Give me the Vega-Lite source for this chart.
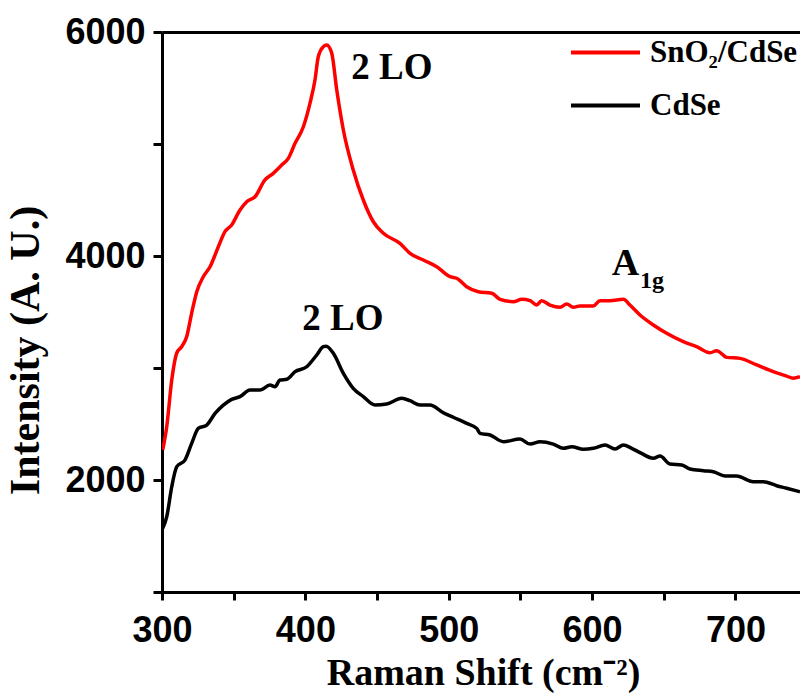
{
  "$schema": "https://vega.github.io/schema/vega-lite/v6.json",
  "width": 638,
  "height": 560,
  "autosize": {"type": "none"},
  "padding": {"left": 162, "top": 32, "right": 0, "bottom": 104},
  "background": "#ffffff",
  "config": {
    "view": {"stroke": null},
    "axis": {"grid": false, "domainColor": "#000000", "tickColor": "#000000", "labelColor": "#000000", "titleColor": "#000000"}
  },
  "datasets": {
    "spectra": [
      {"sample": "SnO₂/CdSe", "shift": 300.5, "intensity": 2268},
      {"sample": "SnO₂/CdSe", "shift": 303.3, "intensity": 2476},
      {"sample": "SnO₂/CdSe", "shift": 306.8, "intensity": 2893},
      {"sample": "SnO₂/CdSe", "shift": 310.3, "intensity": 3134},
      {"sample": "SnO₂/CdSe", "shift": 313.7, "intensity": 3190},
      {"sample": "SnO₂/CdSe", "shift": 317.2, "intensity": 3279},
      {"sample": "SnO₂/CdSe", "shift": 320.7, "intensity": 3491},
      {"sample": "SnO₂/CdSe", "shift": 324.2, "intensity": 3679},
      {"sample": "SnO₂/CdSe", "shift": 328.8, "intensity": 3815},
      {"sample": "SnO₂/CdSe", "shift": 333.5, "intensity": 3904},
      {"sample": "SnO₂/CdSe", "shift": 339.3, "intensity": 4083},
      {"sample": "SnO₂/CdSe", "shift": 343.9, "intensity": 4217},
      {"sample": "SnO₂/CdSe", "shift": 348.6, "intensity": 4277},
      {"sample": "SnO₂/CdSe", "shift": 354.4, "intensity": 4411},
      {"sample": "SnO₂/CdSe", "shift": 359.1, "intensity": 4485},
      {"sample": "SnO₂/CdSe", "shift": 364.9, "intensity": 4529},
      {"sample": "SnO₂/CdSe", "shift": 371.8, "intensity": 4679},
      {"sample": "SnO₂/CdSe", "shift": 377.6, "intensity": 4738},
      {"sample": "SnO₂/CdSe", "shift": 383.5, "intensity": 4812},
      {"sample": "SnO₂/CdSe", "shift": 388.1, "intensity": 4872},
      {"sample": "SnO₂/CdSe", "shift": 392.8, "intensity": 5006},
      {"sample": "SnO₂/CdSe", "shift": 398.6, "intensity": 5154},
      {"sample": "SnO₂/CdSe", "shift": 403.2, "intensity": 5363},
      {"sample": "SnO₂/CdSe", "shift": 406.7, "intensity": 5571},
      {"sample": "SnO₂/CdSe", "shift": 409.0, "intensity": 5779},
      {"sample": "SnO₂/CdSe", "shift": 412.5, "intensity": 5869},
      {"sample": "SnO₂/CdSe", "shift": 414.9, "intensity": 5884},
      {"sample": "SnO₂/CdSe", "shift": 418.4, "intensity": 5810},
      {"sample": "SnO₂/CdSe", "shift": 421.9, "intensity": 5482},
      {"sample": "SnO₂/CdSe", "shift": 426.5, "intensity": 5125},
      {"sample": "SnO₂/CdSe", "shift": 433.4, "intensity": 4768},
      {"sample": "SnO₂/CdSe", "shift": 440.4, "intensity": 4500},
      {"sample": "SnO₂/CdSe", "shift": 447.4, "intensity": 4306},
      {"sample": "SnO₂/CdSe", "shift": 454.4, "intensity": 4203},
      {"sample": "SnO₂/CdSe", "shift": 466.0, "intensity": 4113},
      {"sample": "SnO₂/CdSe", "shift": 473.0, "intensity": 4024},
      {"sample": "SnO₂/CdSe", "shift": 482.3, "intensity": 3964},
      {"sample": "SnO₂/CdSe", "shift": 491.6, "intensity": 3904},
      {"sample": "SnO₂/CdSe", "shift": 500.9, "intensity": 3815},
      {"sample": "SnO₂/CdSe", "shift": 505.6, "intensity": 3801},
      {"sample": "SnO₂/CdSe", "shift": 512.5, "intensity": 3726},
      {"sample": "SnO₂/CdSe", "shift": 520.6, "intensity": 3681},
      {"sample": "SnO₂/CdSe", "shift": 530.0, "intensity": 3667},
      {"sample": "SnO₂/CdSe", "shift": 535.8, "intensity": 3613},
      {"sample": "SnO₂/CdSe", "shift": 545.0, "intensity": 3592},
      {"sample": "SnO₂/CdSe", "shift": 550.9, "intensity": 3613},
      {"sample": "SnO₂/CdSe", "shift": 556.7, "intensity": 3601},
      {"sample": "SnO₂/CdSe", "shift": 561.3, "intensity": 3562},
      {"sample": "SnO₂/CdSe", "shift": 564.8, "intensity": 3601},
      {"sample": "SnO₂/CdSe", "shift": 570.6, "intensity": 3562},
      {"sample": "SnO₂/CdSe", "shift": 577.6, "intensity": 3542},
      {"sample": "SnO₂/CdSe", "shift": 582.3, "intensity": 3571},
      {"sample": "SnO₂/CdSe", "shift": 586.9, "intensity": 3542},
      {"sample": "SnO₂/CdSe", "shift": 591.5, "intensity": 3553},
      {"sample": "SnO₂/CdSe", "shift": 600.8, "intensity": 3553},
      {"sample": "SnO₂/CdSe", "shift": 605.5, "intensity": 3601},
      {"sample": "SnO₂/CdSe", "shift": 612.5, "intensity": 3601},
      {"sample": "SnO₂/CdSe", "shift": 621.8, "intensity": 3613},
      {"sample": "SnO₂/CdSe", "shift": 626.4, "intensity": 3562},
      {"sample": "SnO₂/CdSe", "shift": 633.4, "intensity": 3473},
      {"sample": "SnO₂/CdSe", "shift": 642.7, "intensity": 3384},
      {"sample": "SnO₂/CdSe", "shift": 652.0, "intensity": 3310},
      {"sample": "SnO₂/CdSe", "shift": 663.6, "intensity": 3235},
      {"sample": "SnO₂/CdSe", "shift": 672.9, "intensity": 3190},
      {"sample": "SnO₂/CdSe", "shift": 682.2, "intensity": 3136},
      {"sample": "SnO₂/CdSe", "shift": 686.9, "intensity": 3154},
      {"sample": "SnO₂/CdSe", "shift": 693.9, "intensity": 3095},
      {"sample": "SnO₂/CdSe", "shift": 703.2, "intensity": 3086},
      {"sample": "SnO₂/CdSe", "shift": 714.8, "intensity": 3027},
      {"sample": "SnO₂/CdSe", "shift": 726.4, "intensity": 2967},
      {"sample": "SnO₂/CdSe", "shift": 735.7, "intensity": 2928},
      {"sample": "SnO₂/CdSe", "shift": 740.3, "intensity": 2908},
      {"sample": "SnO₂/CdSe", "shift": 745.0, "intensity": 2922},
      {"sample": "CdSe", "shift": 300.5, "intensity": 1569},
      {"sample": "CdSe", "shift": 303.3, "intensity": 1672},
      {"sample": "CdSe", "shift": 306.8, "intensity": 1940},
      {"sample": "CdSe", "shift": 310.3, "intensity": 2119},
      {"sample": "CdSe", "shift": 316.0, "intensity": 2178},
      {"sample": "CdSe", "shift": 320.7, "intensity": 2327},
      {"sample": "CdSe", "shift": 325.3, "intensity": 2461},
      {"sample": "CdSe", "shift": 331.2, "intensity": 2491},
      {"sample": "CdSe", "shift": 337.0, "intensity": 2595},
      {"sample": "CdSe", "shift": 342.8, "intensity": 2669},
      {"sample": "CdSe", "shift": 348.6, "intensity": 2720},
      {"sample": "CdSe", "shift": 354.4, "intensity": 2744},
      {"sample": "CdSe", "shift": 361.4, "intensity": 2803},
      {"sample": "CdSe", "shift": 368.4, "intensity": 2803},
      {"sample": "CdSe", "shift": 375.3, "intensity": 2848},
      {"sample": "CdSe", "shift": 378.8, "intensity": 2833},
      {"sample": "CdSe", "shift": 382.3, "intensity": 2893},
      {"sample": "CdSe", "shift": 387.0, "intensity": 2899},
      {"sample": "CdSe", "shift": 392.8, "intensity": 2967},
      {"sample": "CdSe", "shift": 400.9, "intensity": 3011},
      {"sample": "CdSe", "shift": 407.9, "intensity": 3116},
      {"sample": "CdSe", "shift": 412.5, "intensity": 3190},
      {"sample": "CdSe", "shift": 414.5, "intensity": 3195},
      {"sample": "CdSe", "shift": 419.5, "intensity": 3131},
      {"sample": "CdSe", "shift": 426.5, "intensity": 2953},
      {"sample": "CdSe", "shift": 433.4, "intensity": 2819},
      {"sample": "CdSe", "shift": 440.4, "intensity": 2744},
      {"sample": "CdSe", "shift": 448.6, "intensity": 2669},
      {"sample": "CdSe", "shift": 456.7, "intensity": 2678},
      {"sample": "CdSe", "shift": 467.2, "intensity": 2729},
      {"sample": "CdSe", "shift": 473.0, "intensity": 2708},
      {"sample": "CdSe", "shift": 480.0, "intensity": 2669},
      {"sample": "CdSe", "shift": 486.9, "intensity": 2669},
      {"sample": "CdSe", "shift": 496.2, "intensity": 2601},
      {"sample": "CdSe", "shift": 503.2, "intensity": 2560},
      {"sample": "CdSe", "shift": 512.5, "intensity": 2506},
      {"sample": "CdSe", "shift": 519.5, "intensity": 2461},
      {"sample": "CdSe", "shift": 521.8, "intensity": 2417},
      {"sample": "CdSe", "shift": 528.8, "intensity": 2402},
      {"sample": "CdSe", "shift": 538.1, "intensity": 2342},
      {"sample": "CdSe", "shift": 549.7, "intensity": 2366},
      {"sample": "CdSe", "shift": 556.7, "intensity": 2321},
      {"sample": "CdSe", "shift": 563.7, "intensity": 2342},
      {"sample": "CdSe", "shift": 572.9, "intensity": 2321},
      {"sample": "CdSe", "shift": 579.9, "intensity": 2283},
      {"sample": "CdSe", "shift": 585.8, "intensity": 2297},
      {"sample": "CdSe", "shift": 593.9, "intensity": 2274},
      {"sample": "CdSe", "shift": 600.8, "intensity": 2283},
      {"sample": "CdSe", "shift": 609.0, "intensity": 2312},
      {"sample": "CdSe", "shift": 616.0, "intensity": 2277},
      {"sample": "CdSe", "shift": 621.8, "intensity": 2312},
      {"sample": "CdSe", "shift": 627.6, "intensity": 2283},
      {"sample": "CdSe", "shift": 633.4, "intensity": 2245},
      {"sample": "CdSe", "shift": 642.7, "intensity": 2194},
      {"sample": "CdSe", "shift": 647.4, "intensity": 2214},
      {"sample": "CdSe", "shift": 654.3, "intensity": 2143},
      {"sample": "CdSe", "shift": 662.5, "intensity": 2134},
      {"sample": "CdSe", "shift": 668.3, "intensity": 2098},
      {"sample": "CdSe", "shift": 677.6, "intensity": 2083},
      {"sample": "CdSe", "shift": 684.5, "intensity": 2074},
      {"sample": "CdSe", "shift": 692.7, "intensity": 2036},
      {"sample": "CdSe", "shift": 700.8, "intensity": 2036},
      {"sample": "CdSe", "shift": 712.4, "intensity": 1985},
      {"sample": "CdSe", "shift": 719.4, "intensity": 1985},
      {"sample": "CdSe", "shift": 728.7, "intensity": 1949},
      {"sample": "CdSe", "shift": 735.7, "intensity": 1926},
      {"sample": "CdSe", "shift": 745.0, "intensity": 1895}
    ],
    "peaks": [
      {"shift": 460.4, "intensity": 5580, "label": "2 LO"},
      {"shift": 426.2, "intensity": 3339, "label": "2 LO"}
    ],
    "a1g": [
      {"shift": 613.7, "intensity": 3830, "label": "A"}
    ],
    "a1gsub": [
      {"shift": 633.4, "intensity": 3714, "label": "1g"}
    ]
  },
  "resolve": {"axis": {"x": "independent", "y": "independent"}},
  "layer": [
    {
      "data": {"name": "spectra"},
      "mark": {"type": "line", "strokeWidth": 3.5, "interpolate": "monotone", "clip": true},
      "encoding": {
        "x": {
          "field": "shift", "type": "quantitative",
          "scale": {"domain": [300, 745], "nice": false, "zero": false},
          "axis": {
            "orient": "bottom",
            "values": [300, 350, 400, 450, 500, 550, 600, 650, 700],
            "format": "d",
            "labelExpr": "datum.value % 100 === 0 ? datum.label : ''",
            "labelFont": "Liberation Sans", "labelFontWeight": "bold", "labelFontSize": 36,
            "labelPadding": 13, "labelFlush": false, "labelOverlap": false,
            "tickSize": 8, "tickWidth": 3, "domainWidth": 3,
            "title": "Raman Shift (cm⁻²)",
            "titleFont": "Liberation Serif", "titleFontWeight": "bold", "titleFontSize": 38,
            "titleBaseline": "alphabetic", "titleY": 92, "titleX": 321
          }
        },
        "y": {
          "field": "intensity", "type": "quantitative",
          "scale": {"domain": [1000, 6000], "nice": false, "zero": false},
          "axis": {
            "orient": "left",
            "values": [1000, 2000, 3000, 4000, 5000, 6000],
            "format": "d",
            "labelExpr": "datum.value % 2000 === 0 ? datum.label : ''",
            "labelFont": "Liberation Sans", "labelFontWeight": "bold", "labelFontSize": 36,
            "labelPadding": 8, "labelOverlap": false, "labelFlush": false,
            "tickSize": 9, "tickWidth": 3, "domainWidth": 3,
            "title": "Intensity (A. U.)",
            "titleFont": "Liberation Serif", "titleFontWeight": "bold", "titleFontSize": 42,
            "titleAngle": 270, "titleAlign": "center", "titleBaseline": "alphabetic",
            "titleX": -124, "titleY": 318
          }
        },
        "color": {
          "field": "sample", "type": "nominal",
          "scale": {"domain": ["SnO₂/CdSe", "CdSe"], "range": ["#ff0000", "#000000"]},
          "legend": {
            "orient": "none", "legendX": 407, "legendY": -16,
            "title": null, "padding": 0,
            "symbolType": "stroke", "symbolSize": 4761, "symbolStrokeWidth": 4,
            "labelFont": "Liberation Serif", "labelFontWeight": "bold", "labelFontSize": 31,
            "labelColor": "#000000", "labelOffset": 8, "rowPadding": 1
          }
        }
      }
    },
    {
      "data": {"name": "peaks"},
      "mark": {"type": "text", "font": "Liberation Serif", "fontWeight": "bold", "fontSize": 37, "align": "center", "baseline": "alphabetic", "color": "#000000"},
      "encoding": {
        "x": {"field": "shift", "type": "quantitative",
          "axis": {"orient": "top", "labels": false, "ticks": false, "domainWidth": 3, "title": null}},
        "y": {"field": "intensity", "type": "quantitative", "axis": null},
        "text": {"field": "label"}
      }
    },
    {
      "data": {"name": "a1g"},
      "mark": {"type": "text", "font": "Liberation Serif", "fontWeight": "bold", "fontSize": 38, "align": "left", "baseline": "alphabetic", "color": "#000000"},
      "encoding": {
        "x": {"field": "shift", "type": "quantitative", "axis": null},
        "y": {"field": "intensity", "type": "quantitative", "axis": null},
        "text": {"field": "label"}
      }
    },
    {
      "data": {"name": "a1gsub"},
      "mark": {"type": "text", "font": "Liberation Serif", "fontWeight": "bold", "fontSize": 24, "align": "left", "baseline": "alphabetic", "color": "#000000"},
      "encoding": {
        "x": {"field": "shift", "type": "quantitative", "axis": null},
        "y": {"field": "intensity", "type": "quantitative", "axis": null},
        "text": {"field": "label"}
      }
    }
  ]
}
